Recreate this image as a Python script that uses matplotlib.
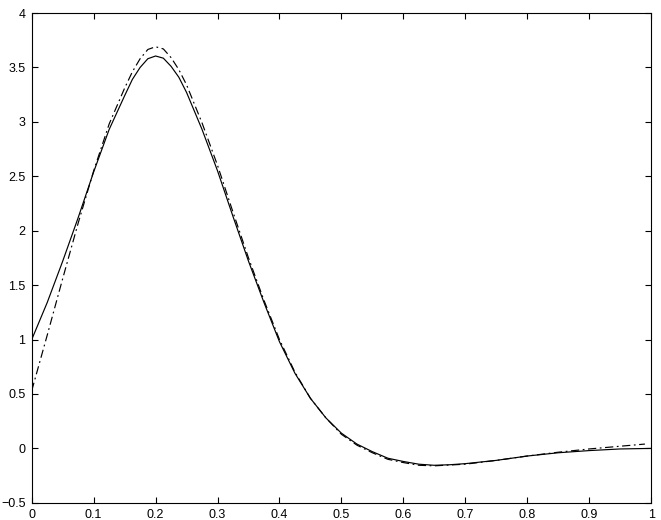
import matplotlib
matplotlib.use("Agg")
import matplotlib.pyplot as plt

# values
x_solid = [0, 0.025, 0.05, 0.075, 0.1, 0.125, 0.15, 0.1625, 0.175, 0.1875, 0.2,
           0.2125, 0.225, 0.2375, 0.25, 0.275, 0.3, 0.325, 0.35, 0.375, 0.4,
           0.425, 0.45, 0.475, 0.5, 0.525, 0.55, 0.575, 0.6, 0.625, 0.65,
           0.675, 0.7, 0.75, 0.8, 0.85, 0.9, 0.95, 1.0]
y_solid = [1.00, 1.34, 1.72, 2.12, 2.54, 2.93, 3.24, 3.39, 3.50, 3.58, 3.605,
           3.585, 3.51, 3.41, 3.27, 2.93, 2.55, 2.13, 1.72, 1.34, 0.98,
           0.69, 0.46, 0.28, 0.14, 0.04, -0.03, -0.09, -0.12, -0.145, -0.155,
           -0.15, -0.14, -0.11, -0.07, -0.04, -0.02, -0.005, 0.0]

x_dash = [0, 0.025, 0.05, 0.075, 0.1, 0.125, 0.15, 0.1625, 0.175, 0.1875, 0.2,
          0.2125, 0.225, 0.2375, 0.25, 0.275, 0.3, 0.325, 0.35, 0.375, 0.4,
          0.425, 0.45, 0.475, 0.5, 0.525, 0.55, 0.575, 0.6, 0.625, 0.65,
          0.7, 0.75, 0.8, 0.85, 0.9, 0.95, 0.99]
y_dash = [0.53, 1.04, 1.56, 2.07, 2.55, 2.98, 3.31, 3.46, 3.58, 3.665, 3.69,
          3.67, 3.59, 3.48, 3.34, 2.99, 2.60, 2.17, 1.75, 1.36, 1.00,
          0.70, 0.46, 0.28, 0.13, 0.03, -0.04, -0.10, -0.13, -0.155, -0.16,
          -0.145, -0.11, -0.07, -0.035, -0.005, 0.02, 0.04]

x_ticks = [0, 0.1, 0.2, 0.3, 0.4, 0.5, 0.6, 0.7, 0.8, 0.9, 1]
x_labels = ['0', '0.1', '0.2', '0.3', '0.4', '0.5', '0.6', '0.7', '0.8', '0.9', '1']
y_ticks = [-0.5, 0, 0.5, 1, 1.5, 2, 2.5, 3, 3.5, 4]
y_labels = ['\u22120.5', '0', '0.5', '1', '1.5', '2', '2.5', '3', '3.5', '4']

plt.rcParams['font.family'] = ['Liberation Sans', 'DejaVu Sans']

fig = plt.figure(figsize=(6.61, 5.20), dpi=100)
ax = fig.add_axes([0.048, 0.033, 0.937, 0.942])

ax.plot(x_solid, y_solid, color='black', linewidth=0.85, linestyle='-')
ax.plot(x_dash, y_dash, color='black', linewidth=0.85, linestyle=(0, (7, 3, 1.5, 3)))

ax.set_xlim(0, 1)
ax.set_ylim(-0.5, 4)
ax.set_xticks(x_ticks)
ax.set_xticklabels(x_labels)
ax.set_yticks(y_ticks)
ax.set_yticklabels(y_labels)
ax.tick_params(direction='in', length=4, width=0.8, labelsize=9,
               top=True, right=True, pad=4.5)
for sp in ax.spines.values():
    sp.set_linewidth(0.8)

fig.savefig('out.png', dpi=100)
